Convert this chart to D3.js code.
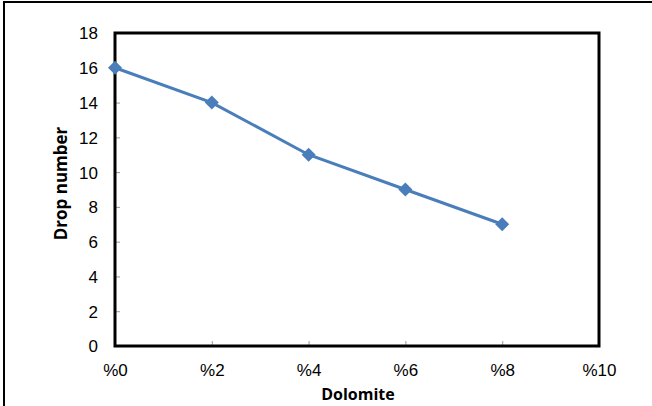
<!DOCTYPE html>
<html><head><meta charset="utf-8">
<script src="https://cdn.jsdelivr.net/npm/d3@7"></script>
<style>body{margin:0;background:#fff}svg{display:block}</style>
</head><body>
<script>
const dolomite = [0, 2, 4, 6, 8];
const dropNumber = [16, 14, 11, 9, 7];
const xTicks = [0, 2, 4, 6, 8, 10];
const yTicks = [0, 2, 4, 6, 8, 10, 12, 14, 16, 18];

const W = 652, H = 406;
const svg = d3.select("body").append("svg").attr("width", W).attr("height", H);
svg.append("rect").attr("width", W).attr("height", H).attr("fill", "#fff");
// outer frame
svg.append("rect").attr("x", 4).attr("y", 2).attr("width", W + 10).attr("height", H + 10)
  .attr("fill", "none").attr("stroke", "#000").attr("stroke-width", 2);

const L = 115, R = 599, T = 33, B = 346;
const x = d3.scaleLinear().domain([0, 10]).range([L, R]);
const y = d3.scaleLinear().domain([0, 18]).range([B, T]);

const xa = d3.axisBottom(x).tickValues(xTicks).tickSize(-5).tickFormat(d => "%" + d);
const ya = d3.axisLeft(y).tickValues(yTicks).tickSize(-5).tickFormat(d => d);

const gx = svg.append("g").attr("transform", `translate(0,${B})`).call(xa);
gx.attr("font-size", null).attr("font-family", null);
gx.select(".domain").remove();
gx.selectAll("line").attr("stroke", "#999");
gx.selectAll("text").style("font-family", "Liberation Sans, Arial, sans-serif").style("font-size", "17px")
  .attr("fill", "#000").attr("dy", null).attr("y", 30);

const gy = svg.append("g").attr("transform", `translate(${L},0)`).call(ya);
gy.attr("font-size", null).attr("font-family", null);
gy.select(".domain").remove();
gy.selectAll("line").attr("stroke", "#999");
gy.selectAll("text").style("font-family", "Liberation Sans, Arial, sans-serif").style("font-size", "17px")
  .attr("fill", "#000").attr("x", -17).attr("dy", "0.35em");

svg.append("rect").attr("x", L).attr("y", T).attr("width", R - L).attr("height", B - T)
  .attr("fill", "none").attr("stroke", "#000").attr("stroke-width", 3);

const pts = dolomite.map((d, i) => [d, dropNumber[i]]);
svg.append("path").datum(pts)
  .attr("d", d3.line().x(d => x(d[0])).y(d => y(d[1])))
  .attr("fill", "none").attr("stroke", "#4a7ebb").attr("stroke-width", 3);

svg.selectAll(".m").data(pts).enter().append("path")
  .attr("transform", d => `translate(${x(d[0])},${y(d[1])})`)
  .attr("d", "M0,-7L7,0L0,7L-7,0Z").attr("fill", "#4a7ebb");

svg.append("text").attr("x", 358).attr("y", 400).attr("text-anchor", "middle")
  .style("font-family", "Open Sans, sans-serif").style("font-weight", "bold").style("font-size", "16px")
  .text("Dolomite");
svg.append("text").attr("transform", `translate(67,${(T + B) / 2 - 6}) rotate(-90)`).attr("text-anchor", "middle")
  .style("font-family", "Open Sans, sans-serif").style("font-weight", "bold").style("font-size", "17px")
  .text("Drop number");
</script>
</body></html>
